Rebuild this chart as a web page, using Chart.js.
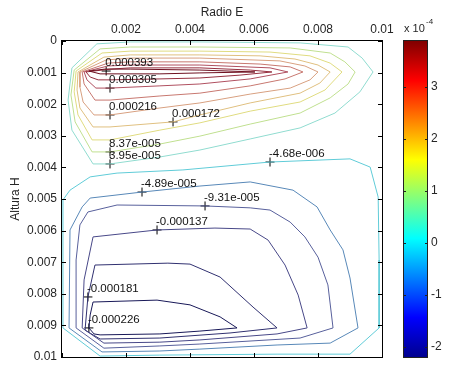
<!DOCTYPE html>
<html>
<head>
<meta charset="utf-8">
<script src="https://cdn.jsdelivr.net/npm/chart.js@4"></script>
<style>
  body { margin: 0; background: #fff; }
</style>
</head>
<body>
<canvas id="chart" width="461" height="367"></canvas>
<script>
// contour levels and their line colours
const contourLevels = [3.93e-4, 3.49e-4, 3.05e-4, 2.61e-4, 2.16e-4, 1.72e-4, 1.28e-4, 8.37e-5, 3.95e-5,
  -4.68e-6, -4.89e-5, -9.31e-5, -1.37e-4, -1.81e-4, -2.26e-4];
const lineColors = ['#6e1020', '#963040', '#b05060', '#c87870', '#d8a080', '#e0c080', '#e0dc80', '#c0e090', '#90dcd0',
  '#60ccd8', '#5888b8', '#58609c', '#484888', '#303070', '#181858'];

// contour paths, [Radio E, Altura H]
const path393 = [[0.00119,0.00104],[0.00306,0.00104],[0.00431,0.00101],[0.00603,0.00098],[0.00431,0.00092],[0.00213,0.00089],[0.00134,0.00089],[0.00084,0.00095],[0.00119,0.00104]];
const path349 = [[0.00113,0.00123],[0.00150,0.00123],[0.00306,0.00120],[0.00431,0.00117],[0.00556,0.00108],[0.00656,0.00098],[0.00588,0.00092],[0.00431,0.00085],[0.00213,0.00085],[0.00150,0.00089],[0.00075,0.00098],[0.00088,0.00114],[0.00113,0.00123]];
const path305 = [[0.00106,0.00149],[0.00150,0.00149],[0.00306,0.00142],[0.00431,0.00136],[0.00588,0.00120],[0.00706,0.00098],[0.00650,0.00085],[0.00431,0.00076],[0.00213,0.00076],[0.00144,0.00079],[0.00069,0.00098],[0.00078,0.00123],[0.00106,0.00149]];
const path261 = [[0.00103,0.00187],[0.00150,0.00187],[0.00306,0.00174],[0.00431,0.00165],[0.00588,0.00142],[0.00697,0.00120],[0.00753,0.00098],[0.00713,0.00082],[0.00619,0.00073],[0.00431,0.00066],[0.00213,0.00066],[0.00144,0.00070],[0.00063,0.00098],[0.00069,0.00136],[0.00103,0.00187]];
const path216 = [[0.00100,0.00234],[0.00150,0.00234],[0.00306,0.00212],[0.00431,0.00196],[0.00588,0.00168],[0.00713,0.00149],[0.00775,0.00123],[0.00800,0.00098],[0.00759,0.00079],[0.00681,0.00063],[0.00431,0.00054],[0.00213,0.00054],[0.00138,0.00060],[0.00056,0.00098],[0.00056,0.00146],[0.00066,0.00193],[0.00100,0.00234]];
const path172 = [[0.00097,0.00272],[0.00150,0.00272],[0.00347,0.00256],[0.00431,0.00234],[0.00588,0.00196],[0.00744,0.00165],[0.00806,0.00133],[0.00838,0.00098],[0.00800,0.00076],[0.00728,0.00057],[0.00619,0.00047],[0.00431,0.00044],[0.00213,0.00044],[0.00131,0.00051],[0.00050,0.00098],[0.00047,0.00155],[0.00056,0.00212],[0.00097,0.00272]];
const path128 = [[0.00094,0.00313],[0.00150,0.00313],[0.00306,0.00282],[0.00431,0.00259],[0.00588,0.00222],[0.00744,0.00193],[0.00822,0.00155],[0.00875,0.00098],[0.00838,0.00070],[0.00775,0.00047],[0.00650,0.00035],[0.00431,0.00032],[0.00213,0.00032],[0.00125,0.00038],[0.00044,0.00095],[0.00038,0.00161],[0.00050,0.00234],[0.00094,0.00313]];
const path084 = [[0.00094,0.00351],[0.00150,0.00351],[0.00306,0.00326],[0.00431,0.00301],[0.00588,0.00263],[0.00744,0.00228],[0.00838,0.00180],[0.00894,0.00136],[0.00916,0.00098],[0.00884,0.00066],[0.00838,0.00038],[0.00713,0.00022],[0.00431,0.00019],[0.00213,0.00019],[0.00119,0.00025],[0.00038,0.00092],[0.00028,0.00171],[0.00041,0.00256],[0.00094,0.00351]];
const path040 = [[0.00097,0.00389],[0.00150,0.00389],[0.00306,0.00367],[0.00431,0.00345],[0.00588,0.00310],[0.00744,0.00275],[0.00853,0.00228],[0.00931,0.00161],[0.00972,0.00098],[0.00938,0.00054],[0.00894,0.00019],[0.00744,0.00006],[0.00431,0.00003],[0.00213,0.00003],[0.00109,0.00009],[0.00031,0.00085],[0.00019,0.00187],[0.00031,0.00282],[0.00097,0.00389]];
const pathN005 = [[0.00003,0.00908],[0.00003,0.00503],[0.00025,0.00472],[0.00088,0.00430],[0.00172,0.00418],[0.00378,0.00408],[0.00650,0.00383],[0.00900,0.00373],[0.00963,0.00399],[0.00988,0.00494],[0.00991,0.00693],[0.00991,0.00908],[0.00900,0.00991],[0.00672,0.00991],[0.00306,0.00994],[0.00119,0.00997],[0.00003,0.00908]];
const pathN049 = [[0.00063,0.00525],[0.00088,0.00497],[0.00250,0.00478],[0.00431,0.00459],[0.00588,0.00446],[0.00722,0.00472],[0.00797,0.00525],[0.00838,0.00598],[0.00878,0.00661],[0.00900,0.00750],[0.00925,0.00908],[0.00838,0.00956],[0.00672,0.00962],[0.00431,0.00975],[0.00306,0.00981],[0.00125,0.00984],[0.00022,0.00908],[0.00025,0.00598],[0.00063,0.00525]];
const pathN093 = [[0.00081,0.00541],[0.00172,0.00519],[0.00447,0.00522],[0.00588,0.00528],[0.00650,0.00535],[0.00713,0.00573],[0.00759,0.00620],[0.00800,0.00684],[0.00831,0.00772],[0.00847,0.00908],[0.00744,0.00940],[0.00431,0.00959],[0.00306,0.00965],[0.00131,0.00972],[0.00044,0.00908],[0.00044,0.00693],[0.00056,0.00582],[0.00081,0.00541]];
const pathN137 = [[0.00097,0.00620],[0.00297,0.00598],[0.00478,0.00592],[0.00588,0.00595],[0.00644,0.00630],[0.00697,0.00709],[0.00738,0.00804],[0.00766,0.00908],[0.00672,0.00927],[0.00431,0.00946],[0.00306,0.00953],[0.00131,0.00956],[0.00063,0.00908],[0.00069,0.00756],[0.00097,0.00620]];
const pathN181 = [[0.00103,0.00709],[0.00331,0.00703],[0.00400,0.00706],[0.00494,0.00747],[0.00597,0.00842],[0.00672,0.00908],[0.00525,0.00924],[0.00306,0.00940],[0.00119,0.00943],[0.00072,0.00915],[0.00081,0.00810],[0.00103,0.00709]];
const pathN226 = [[0.00097,0.00826],[0.00297,0.00820],[0.00400,0.00835],[0.00494,0.00873],[0.00547,0.00908],[0.00431,0.00918],[0.00306,0.00927],[0.00119,0.00930],[0.00100,0.00927],[0.00084,0.00908],[0.00088,0.00867],[0.00097,0.00826]];
const contourPaths = [path393, path349, path305, path261, path216, path172, path128, path084, path040,
  pathN005, pathN049, pathN093, pathN137, pathN181, pathN226];

// clabel texts and the "+" where each sits
const labelText = ['0.000393', '0.000305', '0.000216', '0.000172', '8.37e-005', '3.95e-005', '-4.68e-006',
  '-4.89e-005', '-9.31e-005', '-0.000137', '-0.000181', '-0.000226'];
const labelX = [0.00138, 0.00150, 0.00150, 0.00347, 0.00150, 0.00150, 0.00650, 0.00250, 0.00447, 0.00297, 0.00081, 0.00084];
const labelY = [0.00095, 0.00149, 0.00234, 0.00256, 0.00351, 0.00389, 0.00383, 0.00478, 0.00522, 0.00598, 0.00810, 0.00908];

// axes
const xTickValues = [0, 0.002, 0.004, 0.006, 0.008, 0.01];
const xTickLabels = ['', '0.002', '0.004', '0.006', '0.008', '0.01'];
const yTickValues = [0, 0.001, 0.002, 0.003, 0.004, 0.005, 0.006, 0.007, 0.008, 0.009, 0.01];
const yTickLabels = ['0', '0.001', '0.002', '0.003', '0.004', '0.005', '0.006', '0.007', '0.008', '0.009', '0.01'];

// colorbar (x 10^-4)
const cbMin = -2.19;
const cbMax = 3.88;
const cbTickValues = [-2, -1, 0, 1, 2, 3];
const cbTickLabels = ['-2', '-1', '0', '1', '2', '3'];
const jetStops = [[0, '#00008f'], [0.125, '#0000ff'], [0.375, '#00ffff'], [0.625, '#ffff00'], [0.875, '#ff0000'], [1, '#800000']];

const FONT = '"Liberation Sans", Arial, sans-serif';
const TXT = '#262626';

const datasets = contourPaths.map((path, i) => ({
  label: String(contourLevels[i]),
  data: path.map(p => ({ x: p[0], y: p[1] })),
  showLine: true,
  borderColor: lineColors[i],
  borderWidth: 1,
  pointRadius: 0,
  tension: 0,
  fill: false
}));
datasets.push({
  label: 'marks',
  data: labelX.map((x, i) => ({ x: x, y: labelY[i] })),
  pointStyle: 'cross',
  pointRadius: 4.5,
  borderColor: '#000',
  borderWidth: 1,
  showLine: false
});

// fixed box sizes, and no label padding pushing the plot in
function fixSize(size) {
  return s => {
    if (s.isHorizontal()) s.height = size; else s.width = size;
    s.paddingTop = 0; s.paddingBottom = 0; s.paddingLeft = 0; s.paddingRight = 0;
  };
}

// box, inward ticks, clabel texts and the colorbar
const contourDecor = {
  id: 'contourDecor',
  afterDraw(chart) {
    const { ctx, chartArea: a, scales } = chart;
    const xs = scales.x, ys = scales.y, cb = scales.cb;
    ctx.save();
    ctx.strokeStyle = '#000';
    ctx.lineWidth = 1;
    ctx.strokeRect(a.left - 0.5, a.top - 0.5, a.right - a.left + 1, a.bottom - a.top + 1);

    ctx.beginPath();
    xTickValues.forEach(v => {
      const px = Math.round(xs.getPixelForValue(v)) + 0.5;
      ctx.moveTo(px, a.top); ctx.lineTo(px, a.top + 4);
      ctx.moveTo(px, a.bottom); ctx.lineTo(px, a.bottom - 4);
    });
    yTickValues.forEach(v => {
      const py = Math.round(ys.getPixelForValue(v)) + 0.5;
      ctx.moveTo(a.left, py); ctx.lineTo(a.left + 4, py);
      ctx.moveTo(a.right, py); ctx.lineTo(a.right - 4, py);
    });
    ctx.stroke();

    ctx.font = '11.5px ' + FONT;
    ctx.fillStyle = '#111';
    ctx.textBaseline = 'middle';
    ctx.textAlign = 'left';
    labelText.forEach((t, i) => {
      const px = xs.getPixelForValue(labelX[i]);
      const py = ys.getPixelForValue(labelY[i]);
      ctx.fillText(t, px - 1, py - 8);
    });

    // colorbar
    const bx = cb.left + 21, bw = 25;
    const top = cb.getPixelForValue(cbMax), bottom = cb.getPixelForValue(cbMin);
    const g = ctx.createLinearGradient(0, bottom, 0, top);
    jetStops.forEach(s => g.addColorStop(s[0], s[1]));
    ctx.fillStyle = g;
    ctx.fillRect(bx, top, bw, bottom - top);
    ctx.strokeStyle = '#222';
    ctx.strokeRect(bx + 0.5, top - 0.5, bw - 1, bottom - top + 1);
    ctx.beginPath();
    cbTickValues.forEach(v => {
      const py = Math.round(cb.getPixelForValue(v)) + 0.5;
      ctx.moveTo(bx, py); ctx.lineTo(bx + 3, py);
      ctx.moveTo(bx + bw, py); ctx.lineTo(bx + bw - 3, py);
    });
    ctx.stroke();

    ctx.fillStyle = TXT;
    ctx.font = '11px ' + FONT;
    ctx.fillText('x 10', bx + 1, 29);
    ctx.font = '8px ' + FONT;
    ctx.fillText('-4', bx + 23, 22);
    ctx.restore();
  }
};

new Chart(document.getElementById('chart'), {
  type: 'scatter',
  data: { datasets: datasets },
  options: {
    responsive: false,
    animation: false,
    devicePixelRatio: 1,
    layout: { padding: { top: 0, left: 0, right: 0, bottom: 10 } },
    plugins: { legend: { display: false }, tooltip: { enabled: false } },
    scales: {
      x: {
        type: 'linear',
        position: 'top',
        min: 0,
        max: 0.01,
        afterBuildTicks: s => { s.ticks = xTickValues.map(v => ({ value: v })); },
        afterFit: fixSize(41),
        ticks: { callback: (v, i) => xTickLabels[i], autoSkip: false, maxRotation: 0, padding: 4, color: TXT, font: { family: FONT, size: 12 } },
        grid: { drawOnChartArea: false, drawTicks: false },
        border: { display: false },
        title: { display: true, text: 'Radio E', color: TXT, font: { family: FONT, size: 12 }, padding: { top: 5, bottom: 0 } }
      },
      y: {
        type: 'linear',
        position: 'left',
        reverse: true,
        min: 0,
        max: 0.01,
        afterBuildTicks: s => { s.ticks = yTickValues.map(v => ({ value: v })); },
        afterFit: fixSize(62),
        ticks: { callback: (v, i) => yTickLabels[i], autoSkip: false, padding: 5, color: TXT, font: { family: FONT, size: 12 } },
        grid: { drawOnChartArea: false, drawTicks: false },
        border: { display: false },
        title: { display: true, text: 'Altura H', color: TXT, font: { family: FONT, size: 12 }, padding: { top: 8, bottom: 0 } }
      },
      cb: {
        type: 'linear',
        axis: 'y',
        position: 'right',
        min: cbMin,
        max: cbMax,
        afterBuildTicks: s => { s.ticks = cbTickValues.map(v => ({ value: v })); },
        afterFit: fixSize(79),
        ticks: { callback: (v, i) => cbTickLabels[i], autoSkip: false, padding: 49, color: TXT, font: { family: FONT, size: 12 } },
        grid: { display: false, drawTicks: false },
        border: { display: false }
      }
    }
  },
  plugins: [contourDecor]
});
</script>
</body>
</html>
